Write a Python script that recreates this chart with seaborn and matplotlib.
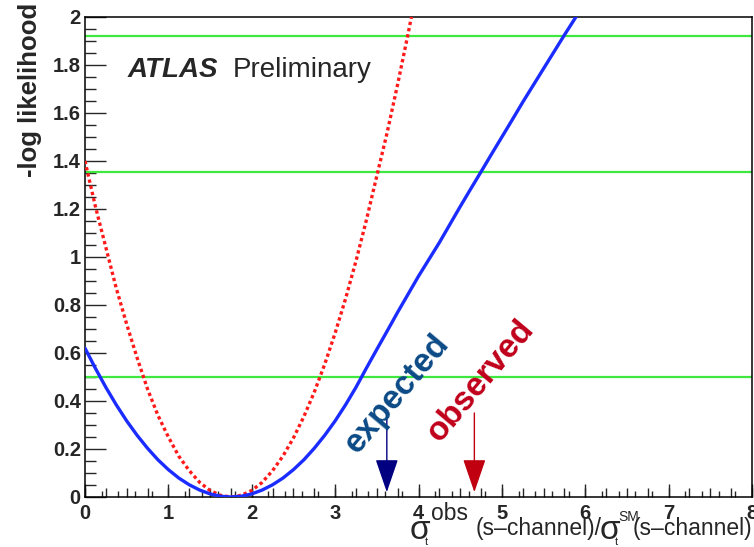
import matplotlib
matplotlib.use("Agg")
import matplotlib.pyplot as plt
from matplotlib.ticker import MultipleLocator, FuncFormatter
import pandas as pd
import seaborn as sns

# Profile likelihood scan versus the s-channel signal strength
ratio_observed = [0.0, 0.125, 0.25, 0.375, 0.5, 0.625, 0.75, 0.875, 1.0,
                  1.125, 1.25, 1.375, 1.5, 1.625, 1.75, 1.875, 2.0, 2.125,
                  2.25, 2.375, 2.5, 2.625, 2.75, 2.875, 3.0, 3.125, 3.25,
                  3.375, 3.5, 3.625, 3.75, 3.875, 4.0, 4.125, 4.25, 4.375,
                  4.5, 4.625, 4.75, 4.875, 5.0, 5.125, 5.25, 5.375, 5.5,
                  5.625, 5.75, 5.875, 6.0]
nll_observed = [0.62, 0.536, 0.457, 0.384, 0.317, 0.257, 0.203, 0.155, 0.114,
                0.079, 0.051, 0.029, 0.013, 0.003, 0.0, 0.003, 0.013, 0.029,
                0.051, 0.079, 0.114, 0.155, 0.203, 0.257, 0.317, 0.384, 0.457,
                0.537, 0.615, 0.692, 0.77, 0.845, 0.92, 0.99, 1.06, 1.135,
                1.21, 1.283, 1.355, 1.428, 1.50, 1.572, 1.645, 1.715, 1.785,
                1.855, 1.925, 1.993, 2.06]

ratio_expected = [0.0, 0.125, 0.25, 0.375, 0.5, 0.625, 0.75, 0.875, 1.0,
                  1.125, 1.25, 1.375, 1.5, 1.625, 1.75, 1.875, 2.0, 2.125,
                  2.25, 2.375, 2.5, 2.625, 2.75, 2.875, 3.0, 3.125, 3.25,
                  3.375, 3.5, 3.625, 3.75, 3.875, 4.0]
nll_expected = [1.40, 1.21, 1.04, 0.87, 0.72, 0.58, 0.45, 0.34, 0.25, 0.17,
                0.11, 0.061, 0.027, 0.007, 0.0, 0.007, 0.027, 0.061, 0.11,
                0.171, 0.246, 0.335, 0.437, 0.553, 0.683, 0.826, 0.983,
                1.154, 1.338, 1.52, 1.72, 1.93, 2.15]

# Confidence-level thresholds on -log L
cl_levels = [0.5, 1.353, 1.92]

# Upper limits marked with arrows
limit_expected = 3.62
limit_observed = 4.67

sns.set_theme(style="ticks")
plt.rcParams["font.family"] = ["Liberation Sans", "DejaVu Sans"]

W, H = 754, 547
fig = plt.figure(figsize=(W / 100, H / 100), dpi=100)
ax = fig.add_axes([85 / W, 1 - 497 / H, 667 / W, 480 / H])

for lvl in cl_levels:
    ax.axhline(lvl, color="#3ee83e", lw=1.6, zorder=1)

df_obs = pd.DataFrame({"ratio": ratio_observed, "nll": nll_observed})
df_exp = pd.DataFrame({"ratio": ratio_expected, "nll": nll_expected})

sns.lineplot(data=df_exp, x="ratio", y="nll", ax=ax, color="#ff1a1a",
             lw=2.4, zorder=3)
ax.lines[-1].set_dashes((1.0, 0.9))
sns.lineplot(data=df_obs, x="ratio", y="nll", ax=ax, color="#1a2cff",
             lw=2.4, zorder=4)

ax.set_xlim(0, 8)
ax.set_ylim(0, 2)
ax.set_xlabel("")
ax.set_ylabel("")

# Axis frame and ticks
for sp in ax.spines.values():
    sp.set_visible(True)
    sp.set_linewidth(1.1)
    sp.set_color("black")

ax.xaxis.set_major_locator(MultipleLocator(1))
ax.xaxis.set_minor_locator(MultipleLocator(0.2))
ax.yaxis.set_major_locator(MultipleLocator(0.2))
ax.yaxis.set_minor_locator(MultipleLocator(0.05))
ax.yaxis.set_major_formatter(FuncFormatter(lambda v, p: f"{v:g}"))
ax.xaxis.set_major_formatter(FuncFormatter(lambda v, p: f"{v:g}"))

ax.tick_params(axis="x", which="major", direction="in", length=9.5, width=1.0,
               pad=5, labelsize=14.5, top=False)
ax.tick_params(axis="x", which="minor", direction="in", length=4.5, width=1.0,
               top=False)
ax.tick_params(axis="y", which="major", direction="in", length=15, width=1.0,
               pad=3, labelsize=14.5, right=False)
ax.tick_params(axis="y", which="minor", direction="in", length=8, width=1.0,
               right=False)
for lab in ax.get_xticklabels() + ax.get_yticklabels():
    lab.set_fontweight("bold")

# second tick scale drawn along the bottom edge
sec = ax.secondary_xaxis("bottom")
sec.xaxis.set_major_locator(MultipleLocator(0.25))
sec.tick_params(axis="x", direction="in", length=6.5, width=1.0,
                labelbottom=False)
sec.spines["bottom"].set_visible(False)

# Arrows for the limits
ax.annotate("", xy=(limit_expected, 0.02), xytext=(limit_expected, 0.35),
            arrowprops=dict(arrowstyle="-|>,head_length=1.05,head_width=0.36",
                            mutation_scale=20, lw=1.0, color="#2a3a9a",
                            fc="#000080", ec="#000080", shrinkA=0, shrinkB=0),
            zorder=5)
ax.annotate("", xy=(limit_observed, 0.02), xytext=(limit_observed, 0.35),
            arrowprops=dict(arrowstyle="-|>,head_length=1.05,head_width=0.36",
                            mutation_scale=20, lw=1.0, color="#c81e1e",
                            fc="#c00010", ec="#c00010", shrinkA=0, shrinkB=0),
            zorder=5)

ax.text(3.74, 0.43, "expected", rotation=50, rotation_mode="anchor",
        ha="center", va="center", fontsize=24, fontweight="bold",
        color="#0b4a86", zorder=6)
ax.text(4.745, 0.485, "observed", rotation=50, rotation_mode="anchor",
        ha="center", va="center", fontsize=24, fontweight="bold",
        color="#c0001a", zorder=6)

# Experiment label
ax.text((128 - 85) / 667, (497 - 77) / 480, "ATLAS", transform=ax.transAxes,
        fontsize=20, fontweight="bold", fontstyle="italic", ha="left",
        va="baseline")
ax.text((233 - 85) / 667, (497 - 77) / 480, "Preliminary",
        transform=ax.transAxes, fontsize=20, ha="left", va="baseline")

# Axis titles
fig.text(30 / W, 1 - 3 / H, "-log likelihood", rotation=90, ha="center",
         va="top", fontsize=18.5, fontweight="bold")


def label_piece(x_px, y_px, s, size, ha="left"):
    """Place one piece of the x-axis title at a pixel baseline position."""
    fig.text(x_px / W, 1 - y_px / H, s, ha=ha, va="baseline", fontsize=size)


# x-axis title: sigma_t^obs (s-channel) / sigma_t^SM (s-channel)
label_piece(410, 539, "σ", 24)
label_piece(425, 545, "t", 8)
label_piece(431, 520, "obs", 16.5)
label_piece(476, 535, "(s–channel)/", 16.5)
label_piece(600, 539, "σ", 24)
label_piece(615, 545, "t", 8)
label_piece(618, 521, "SM", 10)
label_piece(752, 535, "(s–channel)", 16.5, ha="right")

fig.savefig("out.png", dpi=100)
